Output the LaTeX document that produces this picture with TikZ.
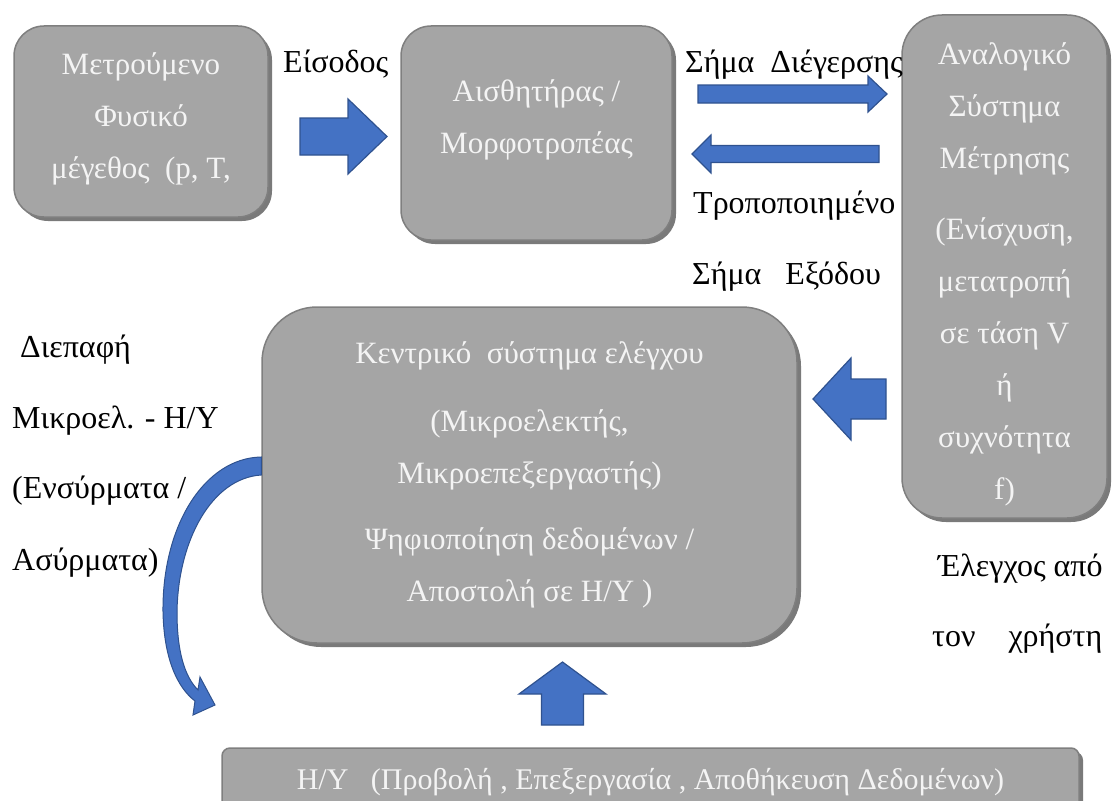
\documentclass[tikz,border=0pt]{standalone}
\usepackage{fontspec}
\setmainfont{Liberation Serif}
\usetikzlibrary{shadows,positioning,calc}
\definecolor{boxgray}{HTML}{A5A5A5}
\definecolor{boxedge}{HTML}{7F7F7F}
\definecolor{boxtxt}{HTML}{F4F4F4}
\definecolor{arrowblue}{HTML}{4472C4}
\definecolor{arrowedge}{HTML}{2F528F}

\begin{document}
\begin{tikzpicture}[x=1pt,y=-1pt,
  box/.style={draw=boxedge,line width=1.5pt,fill=boxgray,rounded corners=#1,inner sep=0pt,
    drop shadow={shadow xshift=4pt,shadow yshift=-4pt,fill=black!80,opacity=.65}},
  box/.default=30pt,
  boxtext/.style={text=boxtxt,align=center,inner sep=0pt,font=\fontsize{31}{52}\selectfont},
  lbl/.style={anchor=base west,inner sep=0pt,font=\fontsize{32}{36}\selectfont},
  blk/.style={draw=arrowedge,fill=arrowblue,line width=1.2pt},
  curvarr/.style={draw=arrowedge,fill=arrowblue,line width=1pt},
  % length / half shaft / half head / head length
  pics/blkarrow/.style n args={4}{code={
    \draw[blk] (0,-#2) -- ({#1-#4},-#2) -- ({#1-#4},-#3) -- (#1,0)
      -- ({#1-#4},#3) -- ({#1-#4},#2) -- (0,#2) -- cycle;
  }}
]
\useasboundingbox (0,0) rectangle (1113,800);
\clip (0,0) rectangle (1113,800);

% boxes
\node[box,minimum width=254pt,minimum height=191pt] (meas) at (141,121.5) {};
\node[box,minimum width=271pt,minimum height=214pt] (sensor) at (536.5,133) {};
\node[box=40pt,minimum width=205pt,minimum height=503pt] (analog) at (1004.5,266.5) {};
\node[box=55pt,minimum width=535pt,minimum height=336pt] (ctrl) at (529.5,475) {};
\node[box=8pt,minimum width=857pt,minimum height=68pt,text=boxtxt,font=\fontsize{30}{34}\selectfont]
  (pc) at (650.5,782) {Η/Υ\ \ \ (Προβολή , Επεξεργασία , Αποθήκευση Δεδομένων)};

% box texts
\node[boxtext,below=27pt of meas.north] (meastxt) {Μετρούμενο\\Φυσικό\\μέγεθος\ \ (p, T,};
\node[boxtext,below=54pt of sensor.north] (sensortxt) {Αισθητήρας /\\Μορφοτροπέας};
\node[boxtext,below=28pt of analog.north] (analogtxt) {Αναλογικό\\Σύστημα\\Μέτρησης\\[19pt]
  (Ενίσχυση,\\μετατροπή\\σε τάση V\\ή\\συχνότητα\\f)};
\node[boxtext,below=35pt of ctrl.north] (ctrltxt) {Κεντρικό\ \ σύστημα ελέγχου\\[16pt]
  (Μικροελεκτής,\\Μικροεπεξεργαστής)\\[14pt]Ψηφιοποίηση δεδομένων /\\Αποστολή σε Η/Υ )};

% block arrows
\pic (inarr) at (300,136.5) {blkarrow={87}{18.5}{37.5}{39}};
\pic (excarr) at (698,94) {blkarrow={189}{9}{18}{19}};
\pic[rotate=180] (outarr) at (879,154) {blkarrow={187}{8.5}{19}{19}};
\pic[rotate=180] (adcarr) at (886,399) {blkarrow={73}{20}{41}{38}};
\pic[rotate=90] (usrarr) at (562.5,725) {blkarrow={63}{21}{43.5}{32}};

% curved arrow to the PC
\coordinate (curvtip) at (215,705);
\draw[curvarr] ([yshift=18pt]ctrl.west) .. controls (205,458) and (162,525) .. (163,612)
  .. controls (164,660) and (178,688) .. (195,701) -- (193,715) -- (curvtip) -- (200,677)
  -- (198,690) .. controls (184,676) and (177,650) .. (177,612)
  .. controls (178,540) and (212,478) .. (ctrl.west) -- cycle;

% labels
\node[lbl] (inlbl) at (283,72) {Είσοδος};
\node[lbl] (exclbl) at (685,72) {Σήμα\ \ Διέγερσης};
\node[lbl] (outlbl1) at (693,213) {Τροποποιημένο};
\node[lbl] (outlbl2) at (692,284) {Σήμα\ \ \ Εξόδου};
\node[lbl] (iflbl1) at (20,357) {Διεπαφή};
\node[lbl] (iflbl2) at (12,428) {Μικροελ. - Η/Υ};
\node[lbl] (iflbl3) at (12,498) {(Ενσύρματα /};
\node[lbl] (iflbl4) at (12,570) {Ασύρματα)};
\node[lbl] (usrlbl1) at (938,576) {Έλεγχος από};
\node[lbl] (usrlbl2) at (932,646) {τον\hspace{33pt}χρήστη};
\end{tikzpicture}
\end{document}
